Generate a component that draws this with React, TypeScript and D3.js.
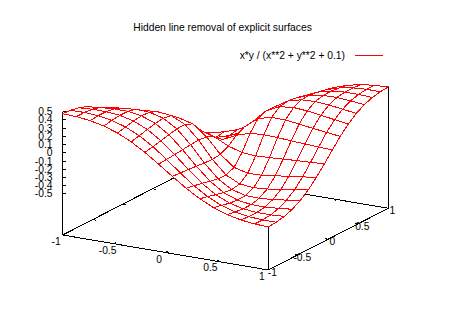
import React from "react";
import * as d3 from "d3";

const titleText = "Hidden line removal of explicit surfaces";
const legendText = "x*y / (x**2 + y**2 + 0.1)";
const xTicks = [-1, -0.5, 0, 0.5, 1];
const yTicks = [-1, -0.5, 0, 0.5, 1];
const zTicks = [-0.5, -0.4, -0.3, -0.2, -0.1, 0, 0.1, 0.2, 0.3, 0.4, 0.5];

const gridX = [-1, -0.867, -0.733, -0.6, -0.467, -0.333, -0.2, -0.067, 0.067, 0.2, 0.333, 0.467, 0.6, 0.733, 0.867, 1];
const gridY = gridX;

// rows: x index, columns: y index
const gridZ = [
  [.476, .468, .448, .411, .354, .275, .175, .060, -.060, -.175, -.275, -.354, -.411, -.448, -.468, -.476],
  [.468, .469, .458, .429, .378, .300, .195, .068, -.068, -.195, -.300, -.378, -.429, -.458, -.469, -.468],
  [.448, .458, .457, .441, .400, .326, .216, .076, -.076, -.216, -.326, -.400, -.441, -.457, -.458, -.448],
  [.411, .429, .441, .439, .413, .350, .240, .086, -.086, -.240, -.350, -.413, -.439, -.441, -.429, -.411],
  [.354, .378, .400, .413, .407, .363, .261, .097, -.097, -.261, -.363, -.407, -.413, -.400, -.378, -.354],
  [.275, .300, .326, .350, .363, .345, .265, .103, -.103, -.265, -.345, -.363, -.350, -.326, -.300, -.275],
  [.175, .195, .216, .240, .261, .265, .222, .092, -.092, -.222, -.265, -.261, -.240, -.216, -.195, -.175],
  [.060, .068, .076, .086, .097, .103, .092, .041, -.041, -.092, -.103, -.097, -.086, -.076, -.068, -.060],
  [-.060, -.068, -.076, -.086, -.097, -.103, -.092, -.041, .041, .092, .103, .097, .086, .076, .068, .060],
  [-.175, -.195, -.216, -.240, -.261, -.265, -.222, -.092, .092, .222, .265, .261, .240, .216, .195, .175],
  [-.275, -.300, -.326, -.350, -.363, -.345, -.265, -.103, .103, .265, .345, .363, .350, .326, .300, .275],
  [-.354, -.378, -.400, -.413, -.407, -.363, -.261, -.097, .097, .261, .363, .407, .413, .400, .378, .354],
  [-.411, -.429, -.441, -.439, -.413, -.350, -.240, -.086, .086, .240, .350, .413, .439, .441, .429, .411],
  [-.448, -.458, -.457, -.441, -.400, -.326, -.216, -.076, .076, .216, .326, .400, .441, .457, .458, .448],
  [-.468, -.469, -.458, -.429, -.378, -.300, -.195, -.068, .068, .195, .300, .378, .429, .458, .469, .468],
  [-.476, -.468, -.448, -.411, -.354, -.275, -.175, -.060, .060, .175, .275, .354, .411, .448, .468, .476],
];

// contribution of each data axis to the screen position
const xToSx = d3.scaleLinear().domain([-1, 1]).range([0, 205.6]);
const xToSy = d3.scaleLinear().domain([-1, 1]).range([0, 35]);
const yToSx = d3.scaleLinear().domain([-1, 1]).range([0, 120]);
const yToSy = d3.scaleLinear().domain([-1, 1]).range([0, -61.7]);
const zToSy = d3.scaleLinear().domain([-1, 0.5]).range([0, -123.3]);
const ORIGIN = [62.7, 235];

type P = [number, number];
const project = (x: number, y: number, z: number): P => [
  ORIGIN[0] + xToSx(x) + yToSx(y),
  ORIGIN[1] + xToSy(x) + yToSy(y) + zToSy(z),
];
const line = d3.line<P>();
const FONT = "'Liberation Sans', Arial, sans-serif";
const FS = 10.3;

function Quads() {
  const out: React.ReactElement[] = [];
  for (let i = 0; i < gridX.length - 1; i++) {
    for (let j = gridY.length - 2; j >= 0; j--) {
      const pts: P[] = [
        project(gridX[i], gridY[j], gridZ[i][j]),
        project(gridX[i + 1], gridY[j], gridZ[i + 1][j]),
        project(gridX[i + 1], gridY[j + 1], gridZ[i + 1][j + 1]),
        project(gridX[i], gridY[j + 1], gridZ[i][j + 1]),
      ];
      out.push(<path key={`${i}-${j}`} d={line(pts)! + "Z"} fill="#fff" stroke="#f00" strokeWidth={1} />);
    }
  }
  return <g shapeRendering="crispEdges">{out}</g>;
}

const seg = (a: P, b: P) => line([a, b])!;

export default function App() {
  const base: P[] = [project(-1, -1, -1), project(1, -1, -1), project(1, 1, -1), project(-1, 1, -1)];
  const tl = 0.035;
  const ticks: string[] = [];
  xTicks.slice(1, -1).forEach((x) => {
    ticks.push(seg(project(x, -1, -1), project(x, -1 + tl, -1)));
    ticks.push(seg(project(x, 1, -1), project(x, 1 - tl, -1)));
  });
  yTicks.slice(1, -1).forEach((y) => {
    ticks.push(seg(project(-1, y, -1), project(-1 + tl, y, -1)));
    ticks.push(seg(project(1, y, -1), project(1 - tl, y, -1)));
  });
  zTicks.forEach((z) => {
    const p = project(-1, -1, z);
    ticks.push(seg(p, [p[0] + 3.5, p[1]]));
  });
  const t = (s: string, x: number, y: number, anchor: string = "middle", k: string = s) => (
    <text key={k} x={x} y={y} textAnchor={anchor} fontFamily={FONT} fontSize={FS} fill="#000">{s}</text>
  );
  const last = gridX.length - 1;
  return (
    <svg width={450} height={320} style={{ position: "absolute", left: 0, top: 0, background: "#fff" }}>
      <g stroke="#000" strokeWidth={1} fill="none" shapeRendering="crispEdges">
        <path d={line(base)! + "Z"} />
        <path d={ticks.join("")} />
        <path d={seg(project(-1, -1, -1), project(-1, -1, 0.5))} />
        <path d={seg(project(1, -1, -1), project(1, -1, gridZ[last][0]))} />
        <path d={seg(project(1, 1, -1), project(1, 1, gridZ[last][last]))} />
      </g>
      <Quads />
      {t(titleText, 222.5, 31)}
      {t(legendText, 345, 59, "end")}
      <line x1={355} x2={383} y1={55.5} y2={55.5} stroke="#f00" shapeRendering="crispEdges" />
      {zTicks.map((z) => t(String(z), 52.5, project(-1, -1, z)[1] + 3.5, "end", "z" + z))}
      {xTicks.map((x) => {
        const p = project(x, -1, -1);
        return t(String(x), p[0] - 6.5, p[1] + 10, "middle", "x" + x);
      })}
      {yTicks.map((y) => {
        const p = project(1, y, -1);
        return t(String(y), p[0] + 4, p[1] + 6, "middle", "y" + y);
      })}
    </svg>
  );
}
